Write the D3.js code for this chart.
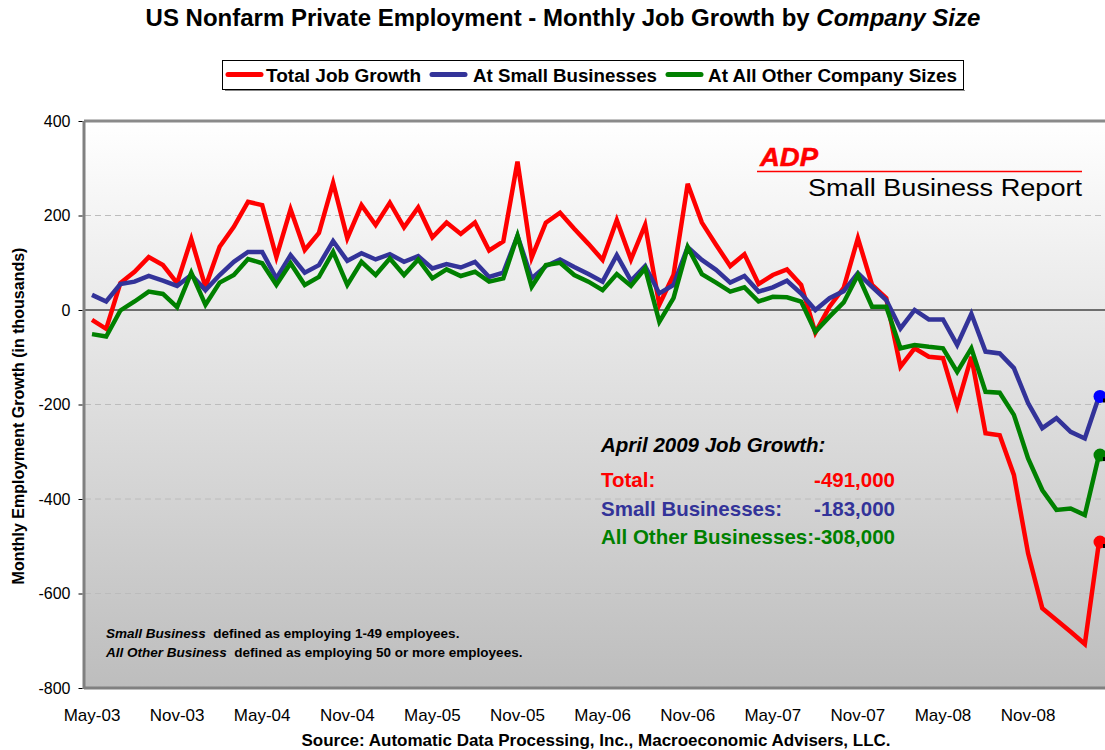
<!DOCTYPE html>
<html><head><meta charset="utf-8">
<script src="https://cdn.jsdelivr.net/npm/d3@7"></script>
<style>
body{margin:0;background:#fff;}
svg{display:block;font-family:"Liberation Sans",Arial,sans-serif;}
</style></head>
<body><svg id="chart" width="1105" height="750"></svg>
<script>
const months = ["May-03","Jun-03","Jul-03","Aug-03","Sep-03","Oct-03","Nov-03","Dec-03","Jan-04","Feb-04","Mar-04","Apr-04",
"May-04","Jun-04","Jul-04","Aug-04","Sep-04","Oct-04","Nov-04","Dec-04","Jan-05","Feb-05","Mar-05","Apr-05",
"May-05","Jun-05","Jul-05","Aug-05","Sep-05","Oct-05","Nov-05","Dec-05","Jan-06","Feb-06","Mar-06","Apr-06",
"May-06","Jun-06","Jul-06","Aug-06","Sep-06","Oct-06","Nov-06","Dec-06","Jan-07","Feb-07","Mar-07","Apr-07",
"May-07","Jun-07","Jul-07","Aug-07","Sep-07","Oct-07","Nov-07","Dec-07","Jan-08","Feb-08","Mar-08","Apr-08",
"May-08","Jun-08","Jul-08","Aug-08","Sep-08","Oct-08","Nov-08","Dec-08","Jan-09","Feb-09","Mar-09","Apr-09"];
const totalGrowth = [-21,-40,57,81,112,95,57,150,49,134,176,229,
222,112,213,127,163,269,152,222,180,227,175,217,
154,185,161,185,126,145,314,111,185,206,172,140,
106,190,107,180,11,74,267,185,138,93,118,55,
74,86,53,-48,7,47,152,53,25,-120,-81,-99,
-102,-203,-99,-261,-265,-349,-515,-631,-656,-681,-707,-491];
const smallBiz = [32,18,55,60,72,62,51,74,42,74,102,123,
123,67,116,79,95,146,104,120,107,118,102,114,
88,97,90,102,70,79,157,67,93,107,91,76,
60,116,62,93,35,53,133,106,85,58,72,39,
48,62,35,0,25,40,78,49,21,-39,0,-20,
-20,-74,-8,-88,-92,-123,-197,-250,-229,-258,-272,-183];
const otherBiz = [-51,-56,-1,18,39,34,6,79,11,58,74,108,
99,53,99,53,70,123,53,102,74,109,74,107,
67,86,72,81,60,67,157,49,95,100,74,60,
42,76,51,88,-25,25,133,76,58,39,48,18,
28,27,18,-46,-14,16,74,7,7,-81,-74,-78,
-81,-131,-81,-173,-175,-222,-314,-381,-423,-420,-434,-307];
const xTickLabels = ["May-03","Nov-03","May-04","Nov-04","May-05","Nov-05","May-06","Nov-06","May-07","Nov-07","May-08","Nov-08"];
const yTicks = [400,200,0,-200,-400,-600,-800];
const seriesNames = ["Total Job Growth","At Small Businesses","At All Other Company Sizes"];
const seriesColors = ["#ff0000","#333399","#008000"];
const summaryLabels = ["Total:","Small Businesses:","All Other Businesses:"];
const summaryValues = ["-491,000","-183,000","-308,000"];

const svg = d3.select("#chart");
const plot = {left:85, top:121, right:1105, bottom:688};
const x = d3.scaleLinear().domain([0, months.length-1]).range([92, 1099]);
const y = d3.scaleLinear().domain([-800, 400]).range([plot.bottom, plot.top]);

// background gradient
const defs = svg.append("defs");
const grad = defs.append("linearGradient").attr("id","bg").attr("x1",0).attr("y1",0).attr("x2",0).attr("y2",1);
grad.append("stop").attr("offset","0%").attr("stop-color","#ffffff");
grad.append("stop").attr("offset","100%").attr("stop-color","#bdbdbd");
svg.append("rect").attr("x",plot.left).attr("y",plot.top).attr("width",plot.right-plot.left).attr("height",plot.bottom-plot.top).attr("fill","url(#bg)");

// gridlines
svg.append("g").selectAll("line").data(yTicks.filter(d=>d!==0 && d!==400 && d!==-800)).join("line")
  .attr("x1",plot.left).attr("x2",plot.right).attr("y1",d=>y(d)).attr("y2",d=>y(d))
  .attr("stroke","#bcbcbc").attr("stroke-width",1).attr("stroke-dasharray","6,4");
svg.append("line").attr("x1",plot.left).attr("x2",plot.right).attr("y1",y(0)).attr("y2",y(0))
  .attr("stroke","#6e6e6e").attr("stroke-width",2);

// frame
svg.append("line").attr("x1",plot.left-1).attr("x2",plot.right).attr("y1",plot.top).attr("y2",plot.top).attr("stroke","#8a8a8a").attr("stroke-width",3);
svg.append("line").attr("x1",plot.left-1).attr("x2",plot.right).attr("y1",plot.bottom).attr("y2",plot.bottom).attr("stroke","#808080").attr("stroke-width",3);
svg.append("line").attr("x1",plot.left-1).attr("x2",plot.left-1).attr("y1",plot.top).attr("y2",plot.bottom+1).attr("stroke","#808080").attr("stroke-width",3);

// y axis
const yAxis = d3.axisLeft(y).tickValues(yTicks).tickSize(4).tickPadding(8).tickFormat(d=>String(d));
const yg = svg.append("g").attr("transform",`translate(${plot.left-2.5},0)`).call(yAxis);
yg.select(".domain").remove();
yg.selectAll("line").attr("stroke","#000");
yg.selectAll("text").attr("font-size","16px").attr("fill","#000").attr("font-family","Liberation Sans, Arial, sans-serif");

// x axis labels
const xg = svg.append("g");
xg.selectAll("text").data(xTickLabels).join("text")
  .attr("x",d=>x(months.indexOf(d))).attr("y",721).attr("text-anchor","middle")
  .attr("font-size","17px").attr("fill","#000").text(d=>d);

// y label
svg.append("text").attr("transform","translate(24,416) rotate(-90)").attr("text-anchor","middle")
  .attr("font-size","16px").attr("font-weight","bold").text("Monthly Employment Growth (in thousands)");

// ADP logo
const logo = svg.append("g");
logo.append("text").attr("x",760).attr("y",166).attr("font-size","26px").attr("font-weight","bold").attr("font-style","italic")
  .attr("fill","#ff0000").attr("stroke","#ff0000").attr("stroke-width",0.5).attr("textLength",58).attr("lengthAdjust","spacingAndGlyphs").text("ADP");
logo.append("line").attr("x1",757).attr("x2",1082).attr("y1",171.5).attr("y2",171.5).attr("stroke","#ff0000").attr("stroke-width",1.5);
logo.append("text").attr("x",1082).attr("y",196).attr("text-anchor","end").attr("font-size","23px").attr("fill","#000")
  .attr("textLength",274).attr("lengthAdjust","spacingAndGlyphs").text("Small Business Report");

// notes
const notes = svg.append("g").attr("font-size","13.5px").attr("font-weight","bold").attr("fill","#000");
const n1 = notes.append("text").attr("x",106).attr("y",638);
n1.append("tspan").attr("font-style","italic").text("Small Business");
n1.append("tspan").text("\u00a0 defined as employing 1-49 employees.");
const n2 = notes.append("text").attr("x",106).attr("y",657);
n2.append("tspan").attr("font-style","italic").text("All Other Business");
n2.append("tspan").text("\u00a0 defined as employing 50 or more employees.");

// summary annotation
svg.append("text").attr("x",601).attr("y",452).attr("font-size","20.5px").attr("font-weight","bold").attr("font-style","italic").text("April 2009 Job Growth:");
const sumG = svg.append("g").attr("font-size","20.5px").attr("font-weight","bold");
summaryLabels.forEach((lab,i)=>{
  sumG.append("text").attr("x",601).attr("y",487+i*28.5).attr("fill",seriesColors[i]).text(lab);
  sumG.append("text").attr("x",895).attr("y",487+i*28.5).attr("text-anchor","end").attr("fill",seriesColors[i]).text(summaryValues[i]);
});

// lines
const data = [totalGrowth, smallBiz, otherBiz];
const line = d3.line().x((d,i)=>x(i)).y(d=>y(d));
[0,1,2].forEach(k=>{
  svg.append("path").datum(data[k]).attr("d",line).attr("fill","none")
    .attr("stroke",seriesColors[k]).attr("stroke-width",4.5).attr("stroke-linejoin","miter");
});
// end markers
const dotColors = ["#ff0000","#0000ff","#008000"];
data.forEach((arr,k)=>{
  const last = arr.length-1;
  svg.append("circle").attr("cx",x(last)+1).attr("cy",y(arr[last])).attr("r",6.5).attr("fill",dotColors[k]);
  svg.append("rect").attr("x",x(last)+4).attr("y",y(arr[last])+2).attr("width",3).attr("height",4).attr("fill","#000");
});

// title
const title = svg.append("text").attr("x",563).attr("y",26).attr("text-anchor","middle")
  .attr("font-size","24px").attr("font-weight","bold");
title.append("tspan").text("US Nonfarm Private Employment - Monthly Job Growth by ");
title.append("tspan").attr("font-style","italic").text("Company Size");

// legend
const lg = svg.append("g");
lg.append("rect").attr("x",222.5).attr("y",60.5).attr("width",741).attr("height",29).attr("fill","#fff").attr("stroke","#000").attr("stroke-width",1);
lg.append("line").attr("x1",225).attr("x2",965).attr("y1",90.5).attr("y2",90.5).attr("stroke","#888").attr("stroke-width",1);
const legendPos = [[228,266,155],[432,473,184],[668,708,249]];
seriesNames.forEach((nm,i)=>{
  lg.append("line").attr("x1",legendPos[i][0]).attr("x2",legendPos[i][0]+33).attr("y1",74.5).attr("y2",74.5)
    .attr("stroke",seriesColors[i]).attr("stroke-width",5).attr("stroke-linecap","round");
  lg.append("text").attr("x",legendPos[i][1]).attr("y",81.5).attr("font-size","18px").attr("font-weight","bold")
    .attr("textLength",legendPos[i][2]).attr("lengthAdjust","spacingAndGlyphs").text(nm);
});

// source
svg.append("text").attr("x",596).attr("y",746).attr("text-anchor","middle").attr("font-size","17px").attr("font-weight","bold")
  .text("Source: Automatic Data Processing, Inc., Macroeconomic Advisers, LLC.");
</script></body></html>
